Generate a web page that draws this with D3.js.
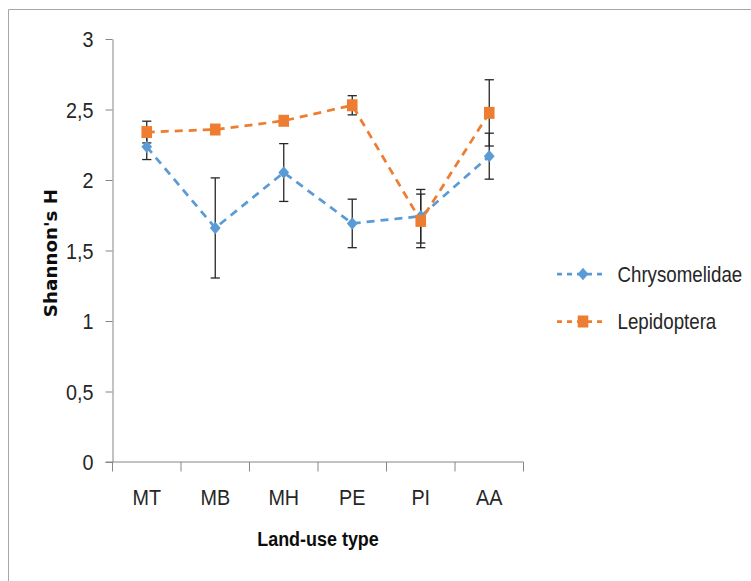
<!DOCTYPE html>
<html>
<head>
<meta charset="utf-8">
<script src="https://cdn.jsdelivr.net/npm/d3@7"></script>
<style>
  html, body { margin: 0; padding: 0; background: #fff; }
  svg { display: block; }
</style>
</head>
<body>
<svg id="chart" width="751" height="581"></svg>
<script>
// ---- data ----
const categories = ["MT", "MB", "MH", "PE", "PI", "AA"];
const chrysomelidae = [2.235, 1.66, 2.053, 1.692, 1.743, 2.169];
const chrysomelidaeErr = [0.09, 0.355, 0.205, 0.172, 0.19, 0.163];
const lepidoptera = [2.34, 2.358, 2.42, 2.53, 1.71, 2.476];
const lepidopteraErr = [0.077, 0.03, 0.03, 0.068, 0.19, 0.235];
const yTicks = [0, 0.5, 1, 1.5, 2, 2.5, 3];
const seriesNames = ["Chrysomelidae", "Lepidoptera"];
const xTitle = "Land-use type";
const yTitle = "Shannon's H";

const series = [
  { name: seriesNames[0], values: chrysomelidae, err: chrysomelidaeErr, color: "#5B9BD5", marker: "diamond" },
  { name: seriesNames[1], values: lepidoptera, err: lepidopteraErr, color: "#ED7D31", marker: "square" }
];

const svg = d3.select("#chart");
const font = "'Liberation Sans', Arial, sans-serif";
const axisColor = "#868686";

// outer frame (only top/left visible)
svg.append("path")
  .attr("d", "M8.5,581 L8.5,9.5 L751,9.5")
  .attr("fill", "none").attr("stroke", "#a6a6a6").attr("stroke-width", 1);

const plotLeft = 112.5, plotRight = 523.5, plotTop = 39, plotBottom = 462;

const x = d3.scaleBand().domain(categories).range([plotLeft, plotRight]).padding(0);
const y = d3.scaleLinear().domain([0, 3]).range([plotBottom, plotTop]);
const cx = d => x(d) + x.bandwidth() / 2;

// y axis
const yAxis = svg.append("g")
  .attr("transform", `translate(${plotLeft},0)`)
  .call(d3.axisLeft(y).tickValues(yTicks).tickSize(7).tickSizeOuter(0)
    .tickFormat(d => String(d).replace(".", ",")));
yAxis.select(".domain").attr("stroke", axisColor);
yAxis.selectAll(".tick line").attr("stroke", axisColor);
yAxis.selectAll(".tick text")
  .attr("x", 0).attr("dy", "0.36em")
  .attr("transform", "translate(-19,0) scale(0.92,1)")
  .attr("font-family", font).attr("font-size", 21.5).attr("fill", "#262626")
  .attr("text-anchor", "end");

// x axis (boundary ticks)
const xAxis = svg.append("g");
xAxis.append("line")
  .attr("x1", plotLeft - 7).attr("x2", plotRight)
  .attr("y1", y(0)).attr("y2", y(0))
  .attr("stroke", axisColor);
const bounds = categories.map(c => x(c)).concat([x(categories[categories.length - 1]) + x.bandwidth()]);
xAxis.selectAll("line.xt").data(bounds).enter().append("line")
  .attr("class", "xt")
  .attr("x1", d => d).attr("x2", d => d)
  .attr("y1", y(0)).attr("y2", y(0) + 9.5)
  .attr("stroke", axisColor);
xAxis.selectAll("text").data(categories).enter().append("text")
  .attr("transform", d => `translate(${cx(d)},${y(0) + 43}) scale(0.92,1)`)
  .attr("text-anchor", "middle")
  .attr("font-family", font).attr("font-size", 21.5).attr("fill", "#262626")
  .text(d => d);

// axis titles
svg.append("text")
  .attr("transform", `translate(${(plotLeft + plotRight) / 2 + 0},546) scale(0.855,1)`)
  .attr("text-anchor", "middle")
  .attr("font-family", font).attr("font-weight", "bold").attr("font-size", 21).attr("fill", "#0d0d0d")
  .text(xTitle);
svg.append("text")
  .attr("transform", `translate(56.5,253) rotate(-90)`)
  .attr("text-anchor", "middle")
  .attr("font-family", "'DejaVu Sans', Verdana, sans-serif").attr("font-weight", "bold").attr("font-size", 18.3).attr("fill", "#0d0d0d")
  .text(yTitle);

// markers
function markerPath(type) {
  if (type === "diamond") return "M0,-6.2 L5.4,0 L0,6.2 L-5.4,0 Z";
  return "M-5.3,-6 L5.3,-6 L5.3,6 L-5.3,6 Z";
}

const line = d3.line().x((d, i) => cx(categories[i])).y(d => y(d));

// lines
series.forEach(s => {
  svg.append("path")
    .datum(s.values)
    .attr("d", line)
    .attr("fill", "none")
    .attr("stroke", s.color)
    .attr("stroke-width", 2.75)
    .attr("stroke-dasharray", "8,6");
});

// error bars
series.forEach(s => {
  const g = svg.append("g");
  s.values.forEach((v, i) => {
    const xc = cx(categories[i]);
    const top = y(v + s.err[i]), bot = y(v - s.err[i]);
    g.append("line").attr("x1", xc).attr("x2", xc).attr("y1", top).attr("y2", bot)
      .attr("stroke", "#262626").attr("stroke-width", 1.3);
    [top, bot].forEach(yy => {
      g.append("line").attr("x1", xc - 4.6).attr("x2", xc + 4.6).attr("y1", yy).attr("y2", yy)
        .attr("stroke", "#262626").attr("stroke-width", 1.3);
    });
  });
});

// markers on top
series.forEach(s => {
  svg.append("g").selectAll("path").data(s.values).enter().append("path")
    .attr("transform", (d, i) => `translate(${cx(categories[i])},${y(d)})`)
    .attr("d", markerPath(s.marker))
    .attr("fill", s.color);
});

// legend
const legendY = [274, 321.5];
series.forEach((s, i) => {
  const g = svg.append("g").attr("transform", `translate(0,${legendY[i]})`);
  g.append("line").attr("x1", 557).attr("x2", 607).attr("y1", 0).attr("y2", 0)
    .attr("stroke", s.color).attr("stroke-width", 2.75).attr("stroke-dasharray", "5,5");
  g.append("path").attr("transform", "translate(583,0)").attr("d", markerPath(s.marker)).attr("fill", s.color);
  g.append("text")
    .attr("transform", "translate(617.5,7.5) scale(0.87,1)")
    .attr("font-family", font).attr("font-size", 21.5).attr("fill", "#262626")
    .text(s.name);
});
</script>
</body>
</html>
